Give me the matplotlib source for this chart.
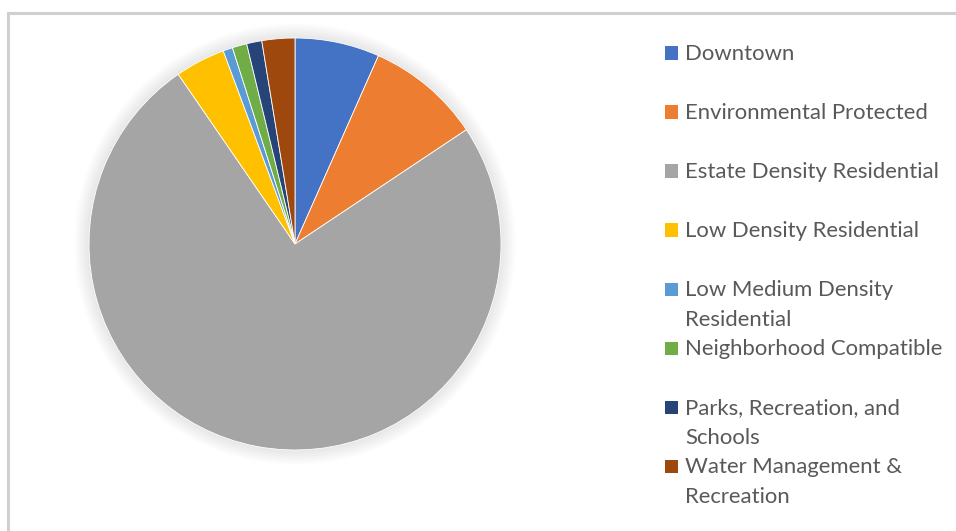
import matplotlib
matplotlib.use("Agg")
import matplotlib.pyplot as plt
from matplotlib.patches import Rectangle, Circle
from matplotlib.lines import Line2D

categories = ["Downtown", "Environmental Protected", "Estate Density Residential",
              "Low Density Residential", "Low Medium Density Residential",
              "Neighborhood Compatible", "Parks, Recreation, and Schools",
              "Water Management & Recreation"]
legend_labels = ["Downtown", "Environmental Protected", "Estate Density Residential",
                 "Low Density Residential", "Low Medium Density\nResidential",
                 "Neighborhood Compatible", "Parks, Recreation, and\nSchools",
                 "Water Management &\nRecreation"]
values = [6.64, 9.00, 74.76, 3.93, 0.75, 1.14, 1.19, 2.58]
colors = ["#4472C4", "#ED7D31", "#A5A5A5", "#FFC000", "#5B9BD5",
          "#70AD47", "#264478", "#9E480E"]

W, H = 956, 531
fig = plt.figure(figsize=(W / 100, H / 100), dpi=100)
fig.patch.set_facecolor("white")

# chart border (only left and top visible)
fig.add_artist(Line2D([8 / W, 8 / W], [0, 1 - 12.5 / H], color="#d0d0d0", lw=2.2))
fig.add_artist(Line2D([8 / W, 1], [1 - 12.5 / H, 1 - 12.5 / H], color="#d0d0d0", lw=2.2))

cx, cy, r = 295, 244, 206
ax = fig.add_axes([(cx - r) / W, (H - cy - r) / H, 2 * r / W, 2 * r / H])
ax.set_xlim(-1, 1)
ax.set_ylim(-1, 1)
ax.set_aspect("equal")
ax.axis("off")

# soft shadow
for i in range(12):
    ax.add_patch(Circle((0.0, 0.0), 1.0 + 0.006 * (i + 1), color="black",
                        alpha=0.009, lw=0, zorder=0, clip_on=False))

ax.pie(values, colors=colors, startangle=90, counterclock=False, radius=1.0,
       wedgeprops=dict(linewidth=0.6, edgecolor="white"))
ax.set_xlim(-1, 1)
ax.set_ylim(-1, 1)

# manual legend
font = dict(family=["Lato", "DejaVu Sans"], fontsize=15.9, color="#595959")
entry_y = [53, 112, 171, 230, 289, 348, 407, 466]
line_gap = 30
for lab, col, y in zip(legend_labels, colors, entry_y):
    fig.add_artist(Rectangle((665 / W, 1 - (y + 6.5) / H), 13 / W, 13 / H,
                             transform=fig.transFigure, color=col, lw=0))
    for k, line in enumerate(lab.split("\n")):
        fig.text(685 / W, 1 - (y + 1 + k * line_gap) / H, line, ha="left",
                 va="center", **font)

fig.savefig("out.png", dpi=100)
